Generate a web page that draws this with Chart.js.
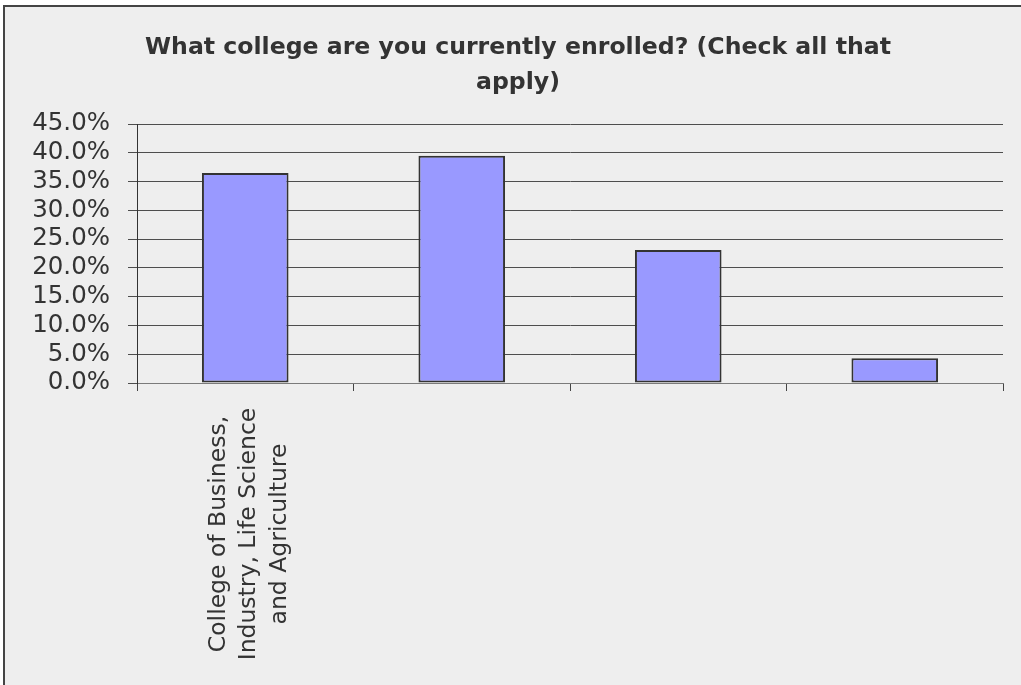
<!DOCTYPE html>
<html>
<head>
<meta charset="utf-8">
<title>College enrollment</title>
<script src="https://cdn.jsdelivr.net/npm/chart.js@4.4.0/dist/chart.umd.min.js"></script>
<style>
  html, body { margin: 0; padding: 0; background: #fff; }
  canvas { display: block; }
</style>
</head>
<body>
<canvas id="collegeChart" width="1021" height="685"></canvas>
<script>
// survey results, share of respondents per college
const titleLines = ['What college are you currently enrolled? (Check all that', 'apply)'];
const colleges = [
  ['College of Business,', 'Industry, Life Science', 'and Agriculture'],
  '',
  '',
  ''
];
const percentages = [36.5, 39.5, 23.1, 4.3];
const yTicks = [0, 5, 10, 15, 20, 25, 30, 35, 40, 45];

const textColor = '#333333';

// grey panel with a dark top/left edge behind everything
const panelBackground = {
  id: 'panelBackground',
  beforeDraw(chart) {
    const { ctx, width, height } = chart;
    ctx.save();
    ctx.fillStyle = '#ffffff';
    ctx.fillRect(0, 0, width, height);
    ctx.fillStyle = '#eeeeee';
    ctx.fillRect(5, 7, width - 5, height - 7);
    ctx.fillStyle = '#444444';
    ctx.fillRect(3, 5, width - 3, 2);
    ctx.fillRect(3, 5, 2, height - 5);
    ctx.restore();
  }
};

// vertical category labels, each line centred along the text direction
const verticalLabels = {
  id: 'verticalLabels',
  afterDraw(chart) {
    const { ctx, chartArea, height } = chart;
    const x = chart.scales.x;
    const midY = (chartArea.bottom + height) / 2;
    ctx.save();
    ctx.font = '23.5px "DejaVu Sans", sans-serif';
    ctx.fillStyle = textColor;
    ctx.textAlign = 'center';
    ctx.textBaseline = 'alphabetic';
    colleges.forEach((label, i) => {
      const lines = Array.isArray(label) ? label : [label];
      const px = x.getPixelForValue(i);
      lines.forEach((line, j) => {
        const offset = 10 + (j - (lines.length - 1) / 2) * 30.5;
        ctx.save();
        ctx.translate(px + offset, midY);
        ctx.rotate(-Math.PI / 2);
        ctx.fillText(line, 0, 0);
        ctx.restore();
      });
    });
    ctx.restore();
  }
};

new Chart(document.getElementById('collegeChart'), {
  type: 'bar',
  data: {
    labels: colleges,
    datasets: [{
      data: percentages,
      backgroundColor: '#9999ff',
      borderColor: '#333333',
      borderWidth: 2,
      borderSkipped: false,
      categoryPercentage: 1,
      barPercentage: 0.4
    }]
  },
  options: {
    responsive: false,
    animation: false,
    events: [],
    layout: { padding: { left: 33, right: 18, top: 0, bottom: 0 } },
    plugins: {
      legend: { display: false },
      tooltip: { enabled: false },
      title: {
        display: true,
        text: titleLines,
        color: textColor,
        font: { family: '"DejaVu Sans", sans-serif', size: 23.6, weight: 'bold', lineHeight: 35 / 23.6 },
        padding: { top: 30, bottom: 24 }
      }
    },
    scales: {
      x: {
        ticks: { display: false },
        grid: {
          offset: true,
          drawOnChartArea: false,
          drawTicks: true,
          tickLength: 8,
          color: '#444444',
          lineWidth: 1
        },
        border: { display: true, color: '#7a7a7a', width: 1 },
        afterFit(scale) { scale.height = 302; }
      },
      y: {
        min: 0,
        max: 45,
        afterBuildTicks(scale) {
          scale.ticks = yTicks.map(v => ({ value: v }));
        },
        ticks: {
          autoSkip: false,
          padding: 18,
          color: textColor,
          font: { family: '"DejaVu Sans", sans-serif', size: 24.5 },
          callback: v => v.toFixed(1) + '%'
        },
        grid: {
          color: '#4d4d4d',
          lineWidth: 1,
          drawTicks: true,
          tickLength: 9
        },
        border: { display: true, color: '#333333', width: 1 },
        afterFit(scale) { scale.width = 104; }
      }
    }
  },
  plugins: [panelBackground, verticalLabels]
});
</script>
</body>
</html>
